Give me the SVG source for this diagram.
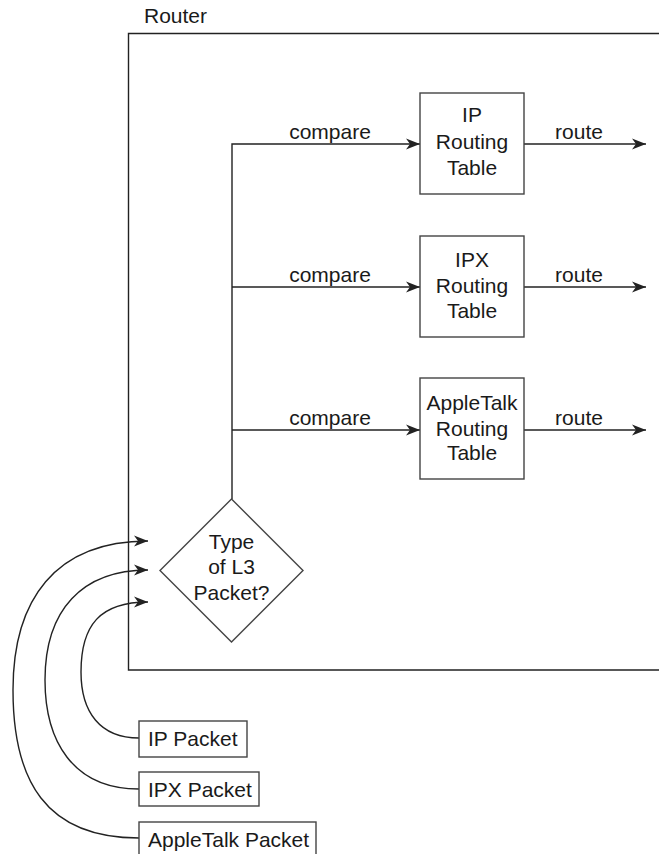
<svg xmlns="http://www.w3.org/2000/svg" width="659" height="854" viewBox="0 0 659 854">
<defs>
<style>
text{font-family:"Liberation Sans",Arial,sans-serif;font-size:21px;fill:#1a1a1a}
.c{text-anchor:middle}
.box{fill:#fff;stroke:#444;stroke-width:1.4}
.ln{fill:none;stroke:#222;stroke-width:1.4}
</style>
<marker id="ah" markerUnits="userSpaceOnUse" markerWidth="16" markerHeight="12" refX="14" refY="6" orient="auto">
<path d="M0,0.5 L14,6 L0,11.5 L4,6 Z" fill="#222"/>
</marker>
</defs>
<rect width="659" height="854" fill="#fff"/>
<g id="router">
<path class="ln" d="M700,33.5 H128.5 V670 H700" stroke="#444"/>
<text x="144" y="23">Router</text>
</g>
<g id="connectors">
<path class="ln" d="M232,499 V144 H420" marker-end="url(#ah)"/>
<path class="ln" d="M232,287 H420" marker-end="url(#ah)"/>
<path class="ln" d="M232,430 H420" marker-end="url(#ah)"/>
<path class="ln" d="M524,144 H646" marker-end="url(#ah)"/>
<path class="ln" d="M524,287 H646" marker-end="url(#ah)"/>
<path class="ln" d="M524,430 H646" marker-end="url(#ah)"/>
<path class="ln" d="M139,738 C100,738 81,712 81,672 C81,625 100,602 148,602" marker-end="url(#ah)"/>
<path class="ln" d="M139,789 C72,789 45,740 45,680 C45,610 82,570 148,570" marker-end="url(#ah)"/>
<path class="ln" d="M139,838 C45,838 13,780 13,690 C13,600 55,541 148,541" marker-end="url(#ah)"/>
<text class="c" x="330" y="139">compare</text>
<text class="c" x="330" y="282">compare</text>
<text class="c" x="330" y="425">compare</text>
<text class="c" x="579" y="139">route</text>
<text class="c" x="579" y="282">route</text>
<text class="c" x="579" y="425">route</text>
</g>
<g id="ip-table">
<rect class="box" x="420" y="93" width="104" height="101"/>
<text class="c" x="472" y="122">IP</text>
<text class="c" x="472" y="149">Routing</text>
<text class="c" x="472" y="175">Table</text>
</g>
<g id="ipx-table">
<rect class="box" x="420" y="236" width="104" height="101"/>
<text class="c" x="472" y="267">IPX</text>
<text class="c" x="472" y="293">Routing</text>
<text class="c" x="472" y="318">Table</text>
</g>
<g id="appletalk-table">
<rect class="box" x="420" y="378" width="104" height="101"/>
<text class="c" x="472" y="410">AppleTalk</text>
<text class="c" x="472" y="436">Routing</text>
<text class="c" x="472" y="460">Table</text>
</g>
<g id="decision">
<polygon class="box" points="231.5,499 303,570.5 231.5,642 160,570.5"/>
<text class="c" x="231.5" y="549">Type</text>
<text class="c" x="231.5" y="574">of L3</text>
<text class="c" x="231.5" y="600">Packet?</text>
</g>
<g id="ip-packet">
<rect class="box" x="139" y="721" width="108" height="36"/>
<text x="148" y="746">IP Packet</text>
</g>
<g id="ipx-packet">
<rect class="box" x="139" y="772" width="120" height="34"/>
<text x="148" y="797">IPX Packet</text>
</g>
<g id="appletalk-packet">
<rect class="box" x="139" y="822" width="177" height="40"/>
<text x="148" y="847">AppleTalk Packet</text>
</g>
</svg>
